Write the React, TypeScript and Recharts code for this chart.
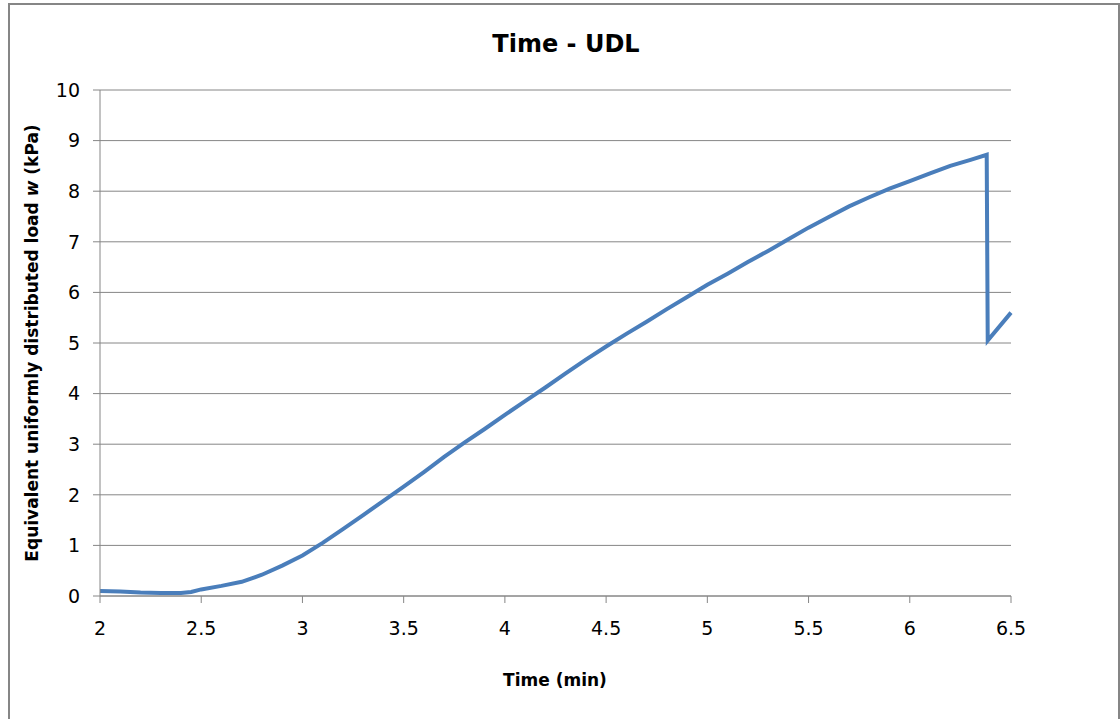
import React from "react";
import { CartesianGrid, Line, LineChart, XAxis, YAxis } from "recharts";

// time in minutes, load in kPa
const time = [
  2, 2.1, 2.2, 2.3, 2.4, 2.45, 2.5, 2.6, 2.7, 2.8, 2.9, 3, 3.1, 3.2, 3.3, 3.4,
  3.5, 3.6, 3.7, 3.8, 3.9, 4, 4.1, 4.2, 4.3, 4.4, 4.5, 4.6, 4.7, 4.8, 4.9, 5,
  5.1, 5.2, 5.3, 5.4, 5.5, 5.6, 5.7, 5.8, 5.9, 6, 6.1, 6.2, 6.3, 6.38, 6.385,
  6.5,
];
const load = [
  0.1, 0.09, 0.07, 0.06, 0.06, 0.08, 0.13, 0.2, 0.28, 0.42, 0.6, 0.8, 1.05,
  1.32, 1.6, 1.88, 2.16, 2.45, 2.75, 3.03, 3.3, 3.58, 3.85, 4.12, 4.4, 4.67,
  4.93, 5.18, 5.42, 5.67, 5.91, 6.15, 6.37, 6.6, 6.82, 7.05, 7.28, 7.49, 7.7,
  7.88, 8.05, 8.2, 8.35, 8.5, 8.62, 8.72, 5.05, 5.6,
];
const xTicks = [2, 2.5, 3, 3.5, 4, 4.5, 5, 5.5, 6, 6.5];
const yTicks = [0, 1, 2, 3, 4, 5, 6, 7, 8, 9, 10];

const font = "'DejaVu Sans', sans-serif";
const gray = "#868686";

const YLabel = () => (
  <text
    x={38}
    y={343}
    transform="rotate(-90 38 343)"
    textAnchor="middle"
    fontFamily={font}
    fontWeight="bold"
    fontSize={17}
    fill="#000"
  >
    Equivalent uniformly distributed load <tspan fontStyle="italic">w</tspan> (kPa)
  </text>
);

export default function App() {
  const data = time.map((t, i) => ({ time: t, load: load[i] }));
  return (
    <div
      style={{
        position: "absolute",
        left: 0,
        top: 0,
        width: 1120,
        height: 719,
        overflow: "hidden",
        background: "#fff",
      }}
    >
      <div
        style={{
          position: "absolute",
          left: 8,
          top: 3,
          width: 1108,
          height: 760,
          border: `2px solid ${gray}`,
        }}
      />
      <LineChart
        width={1120}
        height={719}
        data={data}
        margin={{ top: 90, right: 109, bottom: 93, left: 40 }}
        style={{ position: "absolute", left: 0, top: 0 }}
      >
        <CartesianGrid vertical={false} stroke={gray} />
        <XAxis
          dataKey="time"
          type="number"
          domain={[2, 6.5]}
          ticks={xTicks}
          height={30}
          stroke={gray}
          tickSize={7}
          tickMargin={19}
          tick={{ fill: "#000", fontSize: 19, fontFamily: font }}
        />
        <YAxis
          type="number"
          domain={[0, 10]}
          ticks={yTicks}
          width={60}
          stroke={gray}
          tickSize={7}
          tickMargin={13}
          tick={{ fill: "#000", fontSize: 19, fontFamily: font }}
          label={{ content: () => <YLabel /> }}
        />
        <Line
          dataKey="load"
          stroke="#4a7ebb"
          strokeWidth={4}
          dot={false}
          isAnimationActive={false}
        />
      </LineChart>
      <svg
        width={1120}
        height={719}
        style={{ position: "absolute", left: 0, top: 0, pointerEvents: "none" }}
      >
        <text
          x={566}
          y={52}
          textAnchor="middle"
          fontFamily={font}
          fontWeight="bold"
          fontSize={24}
          fill="#000"
        >
          Time - UDL
        </text>
        <text
          x={555}
          y={686}
          textAnchor="middle"
          fontFamily={font}
          fontWeight="bold"
          fontSize={17}
          fill="#000"
        >
          Time (min)
        </text>
      </svg>
    </div>
  );
}
